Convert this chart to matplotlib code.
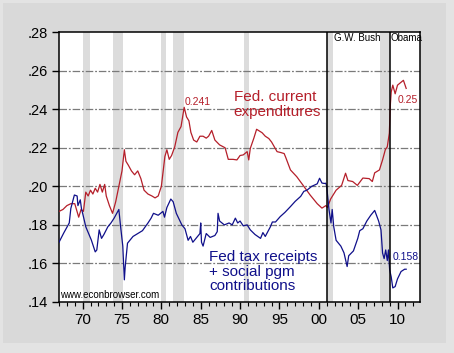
import numpy as np
import matplotlib
matplotlib.use('Agg')
import matplotlib.pyplot as plt
from matplotlib.patches import Rectangle

plt.rcParams['font.family'] = ['Liberation Sans', 'DejaVu Sans']

# Fed. current expenditures (share of GDP)
exp_years = [1967.0, 1967.5, 1968.0, 1968.5, 1969.0, 1969.5, 1969.8, 1970.1, 1970.4, 1970.7,
             1971.0, 1971.3, 1971.6, 1971.9, 1972.2, 1972.5, 1972.8, 1973.0, 1973.4, 1973.8,
             1974.2, 1974.6, 1975.0, 1975.3, 1975.5, 1975.8, 1976.2, 1976.6, 1977.0, 1977.4,
             1977.8, 1978.3, 1978.8, 1979.2, 1979.6, 1980.0, 1980.45, 1980.7, 1981.0, 1981.3,
             1981.7, 1982.1, 1982.5, 1982.9, 1983.2, 1983.5, 1983.75, 1984.1, 1984.5, 1984.9,
             1985.3, 1985.7, 1986.0, 1986.4, 1986.8, 1987.4, 1988.1, 1988.5, 1989.1, 1989.6,
             1990.0, 1990.4, 1990.9, 1991.1, 1991.3, 1991.75, 1992.1, 1992.8, 1993.2, 1993.65,
             1994.0, 1994.7, 1995.2, 1995.6, 1995.8, 1996.4, 1997.2, 1998.1, 1998.9, 1999.8,
             2000.4, 2000.9, 2001.1, 2001.5, 2002.2, 2002.9, 2003.4, 2003.7, 2004.3, 2004.9,
             2005.6, 2006.4, 2006.8, 2007.1, 2007.7, 2008.1, 2008.45, 2008.7, 2008.96, 2009.1,
             2009.2, 2009.4, 2009.7, 2010.0, 2010.3, 2010.75, 2011.1]
exp_vals = [.187, .188, .190, .191, .191, .184, .188, .187, .197, .195,
            .198, .196, .199, .197, .201, .197, .201, .195, .190, .186,
            .192, .200, .208, .219, .213, .211, .208, .206, .208, .204,
            .198, .196, .195, .194, .195, .200, .2155, .219, .214, .216,
            .2205, .228, .231, .241, .236, .234, .228, .224, .223, .226,
            .226, .225, .226, .229, .224, .2215, .220, .214, .214, .2137,
            .216, .2163, .218, .2137, .2197, .225, .2296, .2278, .226, .2248,
            .223, .218, .2175, .217, .215, .2085, .205, .200, .1955, .191,
            .1887, .190, .189, .1934, .198, .2005, .2068, .203, .2025, .2005,
            .2043, .204, .2025, .207, .2085, .2137, .219, .2205, .2276, .243,
            .249, .2525, .248, .2525, .2535, .255, .2508]

# Fed tax receipts + social program contributions
rec_years = [1967.0, 1967.6, 1968.3, 1968.5, 1968.95, 1969.3, 1969.4, 1969.7, 1969.85, 1970.1,
             1970.4, 1971.1, 1971.6, 1971.8, 1972.1, 1972.4, 1972.7, 1973.2, 1973.6, 1974.0,
             1974.6, 1974.8, 1975.1, 1975.3, 1975.4, 1975.7, 1976.4, 1977.0, 1977.6, 1978.3,
             1978.7, 1979.0, 1979.6, 1980.2, 1980.4, 1980.7, 1981.2, 1981.5, 1981.9, 1982.6,
             1983.0, 1983.4, 1983.7, 1984.0, 1984.5, 1984.9, 1985.0, 1985.1, 1985.3, 1985.7,
             1986.2, 1986.8, 1987.1, 1987.2, 1987.4, 1988.0, 1988.6, 1989.0, 1989.4, 1989.7,
             1990.0, 1990.4, 1990.9, 1991.3, 1991.9, 1992.6, 1992.9, 1993.2, 1993.85, 1994.1,
             1994.5, 1995.1, 1995.7, 1996.4, 1997.0, 1997.7, 1998.1, 1998.5, 1999.1, 1999.8,
             2000.1, 2000.4, 2000.7, 2000.9, 2001.0, 2001.3, 2001.55, 2001.7, 2001.9, 2002.2,
             2002.8, 2003.2, 2003.6, 2003.8, 2004.4, 2004.95, 2005.2, 2005.6, 2006.1, 2006.6,
             2007.1, 2007.6, 2007.9, 2008.1, 2008.3, 2008.5, 2008.7, 2008.85, 2009.0, 2009.2,
             2009.4, 2009.7, 2010.0, 2010.45, 2010.9, 2011.1]
rec_vals = [.171, .1758, .181, .1885, .1955, .195, .190, .193, .1885, .1843,
            .179, .1722, .166, .167, .1774, .173, .175, .179, .181, .1835,
            .188, .180, .169, .1515, .158, .1705, .174, .1755, .177, .181,
            .1835, .186, .185, .187, .184, .189, .1934, .192, .186, .180,
            .178, .172, .174, .171, .1735, .1755, .181, .171, .169, .1755,
            .1735, .1745, .1765, .186, .182, .180, .181, .180, .1835, .181,
            .182, .1795, .180, .1774, .175, .173, .176, .174, .179, .1815,
            .1815, .1843, .1865, .1895, .1922, .1948, .1974, .198, .200, .2013,
            .2042, .2017, .2015, .2016, .200, .1878, .181, .188, .179, .172,
            .169, .1655, .1584, .164, .1665, .173, .177, .178, .182, .185,
            .1875, .182, .1774, .1654, .1625, .167, .1615, .167, .1567, .153,
            .1473, .148, .152, .1558, .157, .157]

# NBER recessions as shaded on the chart
rec_start = [1970.0, 1973.8, 1980.0, 1981.5, 1990.5, 2001.1, 2007.8]
rec_end = [1970.9, 1975.1, 1980.6, 1982.9, 1991.1, 2001.8, 2009.1]

# presidential terms
pres_names = ['G.W. Bush', 'Obama']
pres_start = [2001.1, 2009.1]

y_ticks = [.14, .16, .18, .20, .22, .24, .26, .28]
y_labels = ['.14', '.16', '.18', '.20', '.22', '.24', '.26', '.28']
x_ticks = [1970, 1975, 1980, 1985, 1990, 1995, 2000, 2005, 2010]
x_labels = ['70', '75', '80', '85', '90', '95', '00', '05', '10']

red = '#b51f2a'
navy = '#10108a'

fig = plt.figure(figsize=(4.54, 3.53), dpi=100, facecolor='#e3e3e3')
fig.patches.append(Rectangle((0.0066, 0.028), 0.976, 0.963, transform=fig.transFigure,
                             facecolor='#d9d9d9', edgecolor='none', zorder=-10))
ax = fig.add_axes([0.130, 0.1445, 0.795, 0.7645])
ax.set_facecolor('white')

for s, e in zip(rec_start, rec_end):
    ax.axvspan(s, e, color='#dcdcdc', lw=0, zorder=0)

for yv in y_ticks[1:-1]:
    ax.axhline(yv, color='#7a7a7a', lw=0.9, dashes=(6, 1.5, 1.5, 1.5), zorder=1)

ax.plot(exp_years, exp_vals, color=red, lw=0.9, zorder=3)
ax.plot(rec_years, rec_vals, color=navy, lw=0.9, zorder=3)

for name, x0 in zip(pres_names, pres_start):
    ax.axvline(x0, color='black', lw=1.1, zorder=4)
    ax.text(x0 + (0.8 if name == 'G.W. Bush' else -0.05), .2768, name,
            fontsize=7, color='black', ha='left', va='center', zorder=5)

ax.text(1982.9, .2439, '0.241', color=red, fontsize=7.5, ha='left', va='center')
ax.text(1989.2, .2424, 'Fed. current\nexpenditures', color=red, fontsize=11,
        ha='left', va='center', linespacing=1.05)
ax.text(2010.0, .2448, '0.25', color=red, fontsize=7.5, ha='left', va='center')
ax.text(1986.1, .1557, 'Fed tax receipts\n+ social pgm\ncontributions', color=navy,
        fontsize=11, ha='left', va='center', linespacing=1.05)
ax.text(2009.4, .1633, '0.158', color=navy, fontsize=7.5, ha='left', va='center')
ax.text(1967.1, .1437, 'www.econbrowser.com', color='black', fontsize=7,
        ha='left', va='center')

ax.set_xlim(1967.0, 2012.85)
ax.set_ylim(.14, .28)
ax.set_xticks(x_ticks)
ax.set_xticklabels(x_labels)
ax.set_xticks(np.arange(1967, 2013), minor=True)
ax.set_yticks(y_ticks)
ax.set_yticklabels(y_labels)
ax.tick_params(axis='x', which='major', direction='out', length=5, width=1, pad=3,
               labelsize=11)
ax.tick_params(axis='x', which='minor', direction='out', length=3, width=0.8)
ax.tick_params(axis='y', direction='out', length=5, width=1, pad=3, labelsize=10.5)

for sp in ax.spines.values():
    sp.set_color('black')
    sp.set_linewidth(1.1)

fig.savefig('out.png', dpi=100, facecolor=fig.get_facecolor())
